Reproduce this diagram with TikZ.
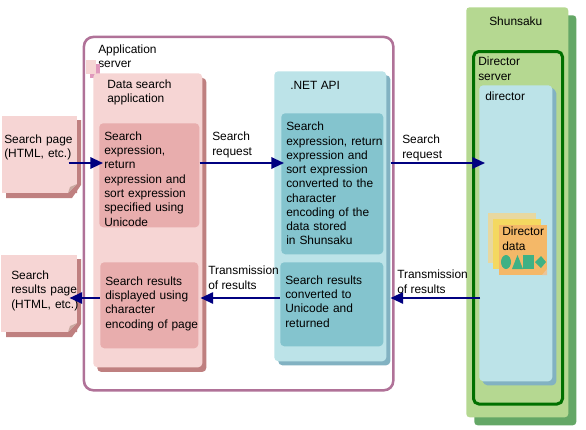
\documentclass[tikz,border=0pt]{standalone}
\usepackage{fontspec}
\setmainfont{Liberation Sans}
\usetikzlibrary{arrows.meta,positioning,shadows}
\definecolor{pagepink}{HTML}{F6D5D4}
\definecolor{pageshade}{HTML}{BF8080}
\definecolor{rosebox}{HTML}{E8ADAD}
\definecolor{foldgrey}{HTML}{C8A8A0}
\definecolor{serverline}{HTML}{B07298}
\definecolor{tabpink}{HTML}{E098BC}
\definecolor{iceblue}{HTML}{BCE3E8}
\definecolor{iceshade}{HTML}{82B2C2}
\definecolor{tealbox}{HTML}{84C4CE}
\definecolor{leafgreen}{HTML}{B5D891}
\definecolor{leafshade}{HTML}{64A766}
\definecolor{darkleaf}{HTML}{007000}
\definecolor{sheetpale}{HTML}{E8D8A0}
\definecolor{sheetyellow}{HTML}{F4D860}
\definecolor{sheetorange}{HTML}{F4B868}
\definecolor{markgreen}{HTML}{3FB184}
\definecolor{flownavy}{HTML}{000080}

\begin{document}
\begin{tikzpicture}[
  x=.75pt, y=-.75pt,
  >=Latex,
  every node/.style={font=\fontsize{8.95}{10.7}\selectfont},
  boxsize/.style 2 args={minimum width=#1*.75pt, minimum height=#2*.75pt},
  caption/.style={anchor=north west, inner sep=0pt, align=left},
  panel/.style={anchor=north west, inner sep=0pt, rounded corners=3pt},
  pagesheet/.style={panel, rounded corners=0pt, fill=pagepink, align=left, text width=#1*.75pt},
  pinkpanel/.style={panel, fill=pagepink, general shadow={shadow xshift=3pt, shadow yshift=-3.5pt, fill=pageshade}},
  bluepanel/.style={panel, fill=iceblue, general shadow={shadow xshift=3pt, shadow yshift=-3pt, fill=iceshade}},
  rosestep/.style={panel, fill=rosebox, align=left, inner xsep=3.75pt, text width=#1*.75pt-7.5pt},
  tealstep/.style={panel, fill=tealbox, align=left, inner xsep=3.75pt, text width=#1*.75pt-7.5pt},
  datasheet/.style={panel, rounded corners=0pt, boxsize={48}{50}},
  flow/.style={->, flownavy, line width=1.5pt, -{Triangle[length=9.5pt, width=8.5pt]}}
]
\useasboundingbox (0,0) rectangle (586,429);

% left pages
\fill[pageshade] (6,120) -- (81,120) -- (81,185) -- (72,198) -- (6,198) -- cycle;
\fill[pageshade] (6,259) -- (81,259) -- (81,324) -- (72,337) -- (6,337) -- cycle;
\node[pagesheet=75, boxsize={75}{77}, text depth=23.2pt, execute at begin node={\leftskip=1.5pt}] (searchpage) at (2,116) {Search page\\(HTML, etc.)};
\node[pagesheet=76, boxsize={76}{77}, text depth=27.9pt, execute at begin node={\leftskip=7.5pt}] (resultpage) at (1,255) {Search\\results page\\\mbox{(HTML, etc.)}};
\fill[pageshade] (77,184) -- (77,193) -- (68,193) -- cycle;
\fill[pageshade] (77,323) -- (77,332) -- (68,332) -- cycle;
\fill[foldgrey] (68,193) -- (70,187) -- (77,184) -- cycle;
\fill[foldgrey] (68,332) -- (70,326) -- (77,323) -- cycle;

% application server
\node[panel, draw=serverline, line width=1.9pt, rounded corners=7pt, boxsize={309.3}{353.3}] (appserver) at (82.7,35.7) {};
\node[caption] (appservertext) at (98,44.5) {Application\\server};
\node[panel, rounded corners=0pt, fill=pagepink, boxsize={10}{14}, general shadow={shadow xshift=3pt, shadow yshift=-3pt, fill=tabpink}] (apptab) at (86,60) {};

\node[pinkpanel, boxsize={109}{294}] (dataapp) at (93,73) {};
\node[caption] (dataapptext) at (107,79.5) {Data search\\application};
\node[rosestep=100, boxsize={100}{104}, text depth=58.7pt] (dataquery) at (99,123) {Search\\expression,\\return\\expression and\\sort expression\\specified using\\Unicode};
\node[rosestep=98, boxsize={98}{86}, text depth=36.4pt] (dataresult) at (100,262) {Search results\\displayed using\\character\\\mbox{encoding of page}};

% .NET API
\node[bluepanel, boxsize={112}{290}] (netapi) at (274,71) {};
\node[caption] (netapitext) at (290,81) {.NET API};
\node[tealstep=102, boxsize={102}{141}, text depth=86pt] (apiquery) at (281,113) {Search\\\mbox{expression, return}\\expression and\\sort expression\\converted to the\\character\\encoding of the\\data stored\\in Shunsaku};
\node[tealstep=103, boxsize={103}{84}, text depth=36.4pt] (apiresult) at (280,262) {Search results\\converted to\\Unicode and\\returned};

% Shunsaku
\node[panel, rounded corners=2.5pt, fill=leafgreen, boxsize={102}{410}, general shadow={shadow xshift=6pt, shadow yshift=-6pt, fill=leafshade}] (shunsaku) at (466,7) {};
\node[caption] (shunsakutext) at (489,17) {Shunsaku};
\node[panel, draw=darkleaf, line width=2.25pt, rounded corners=4pt, boxsize={89}{352.5}] (dirserver) at (472,50) {};
\node[caption] (dirservertext) at (478,57) {Director\\server};
\node[bluepanel, boxsize={73}{296}, general shadow={shadow xshift=2.25pt, shadow yshift=-2pt, fill=iceshade}] (director) at (479,85) {};
\node[caption] (directortext) at (485,92) {director};

% director data
\node[datasheet, fill=sheetpale] (datasheeta) at (488,213) {};
\node[datasheet, fill=sheetyellow] (datasheetb) at (493,219) {};
\node[datasheet, fill=sheetorange] (datasheetc) at (499,225) {};
\node[caption] (datatext) at (502,227) {Director\\data};
\fill[markgreen] (506,262) ellipse (5 and 7);
\fill[markgreen] (512,269) -- (517.5,255) -- (523,269) -- cycle;
\fill[markgreen] (523,255) rectangle (534,269);
\fill[markgreen] (541,256) -- (546,262) -- (541,268) -- (535,262) -- cycle;
\fill[white!60!sheetorange!70!brown] (542,275) -- (547,269) -- (547,275) -- cycle;

% flow
\coordinate (reqline) at (0,163);
\coordinate (retline) at (0,298);
\draw[flow] ([xshift=-6.75pt]searchpage.east |- reqline) -- ([xshift=3pt]dataquery.west |- reqline);
\draw[flow] (dataquery.east |- reqline) -- ([xshift=2.25pt]apiquery.west |- reqline);
\draw[flow] ([xshift=3pt]netapi.east |- reqline) -- ([xshift=4.5pt]director.west |- reqline);
\draw[flow] ([xshift=.75pt]director.west |- retline) -- ([xshift=3pt]netapi.east |- retline);
\draw[flow] (apiresult.west |- retline) -- ([xshift=1.5pt]dataresult.east |- retline);
\draw[flow] (dataresult.west |- retline) -- ([xshift=-6pt]resultpage.east |- retline);

% flow labels
\node[caption] (reqlabela) at (212,132) {Search\\request};
\node[caption] (reqlabelb) at (402,135) {Search\\request};
\node[caption] (retlabela) at (208,266) {Transmission\\of results};
\node[caption] (retlabelb) at (397,270) {Transmission\\of results};
\end{tikzpicture}
\end{document}
